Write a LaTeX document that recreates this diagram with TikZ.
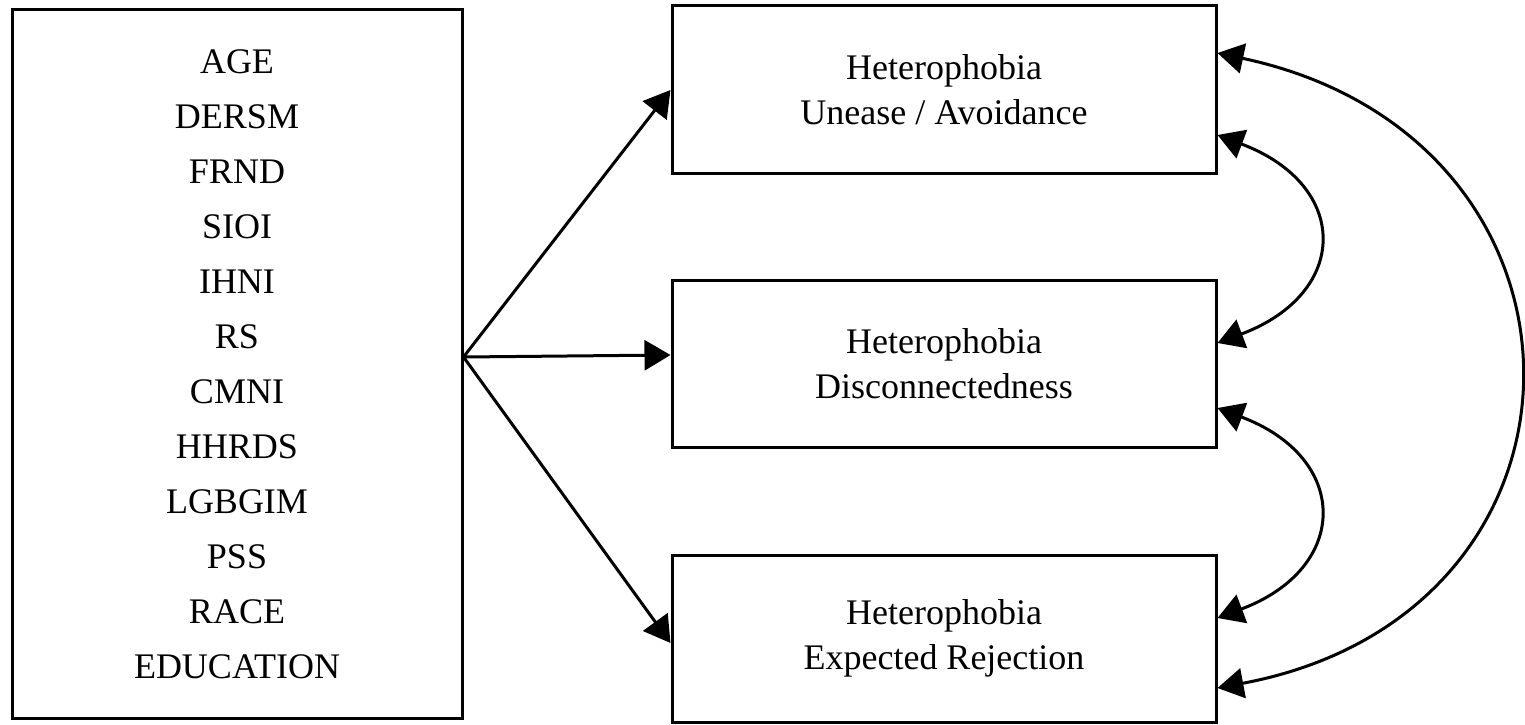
\documentclass[tikz,border=0pt]{standalone}
\usepackage{fontspec}
\setmainfont{Liberation Serif}
\usetikzlibrary{arrows.meta}
\begin{document}
\begin{tikzpicture}[x=1pt,y=-1pt,
  line width=3pt,
  box/.style={draw, rectangle, inner sep=0pt, align=center},
  rbox/.style={box, minimum width=544pt, minimum height=167pt, font=\fontsize{36}{45}\selectfont},
  tip/.style={-{Triangle[length=26pt,width=30pt]}},
  dtip/.style={{Triangle[length=26pt,width=30pt]}-{Triangle[length=26pt,width=30pt]}}
]
\useasboundingbox (0,0) rectangle (1525,725);
\node[box, minimum width=450pt, minimum height=708pt, font=\fontsize{36}{55}\selectfont] (L) at (237,364)
  {AGE\\DERSM\\FRND\\SIOI\\IHNI\\RS\\CMNI\\HHRDS\\LGBGIM\\PSS\\RACE\\EDUCATION};
\node[rbox] (b1) at (944,89.5) {Heterophobia\\Unease / Avoidance};
\node[rbox] (b2) at (944,363.5) {Heterophobia\\Disconnectedness};
\node[rbox] (b3) at (944,638.5) {Heterophobia\\Expected Rejection};
\coordinate (o) at ([yshift=7pt]L.east);
\draw[tip] (o) -- ([yshift=-0.5pt]b1.west);
\draw[tip] (o) -- ([yshift=8.5pt]b2.west);
\draw[tip] (o) -- ([yshift=-4.5pt]b3.west);
\draw[dtip] ([yshift=-45.5pt]b1.east) .. controls +(133,50) and +(133,-50) .. ([yshift=20.5pt]b2.east);
\draw[dtip] ([yshift=-44.5pt]b2.east) .. controls +(133,50) and +(133,-50) .. ([yshift=20.5pt]b3.east);
\draw[dtip] ([yshift=36.5pt]b1.east) .. controls +(400,85) and +(400,-75) .. ([yshift=-49.5pt]b3.east);
\end{tikzpicture}
\end{document}
